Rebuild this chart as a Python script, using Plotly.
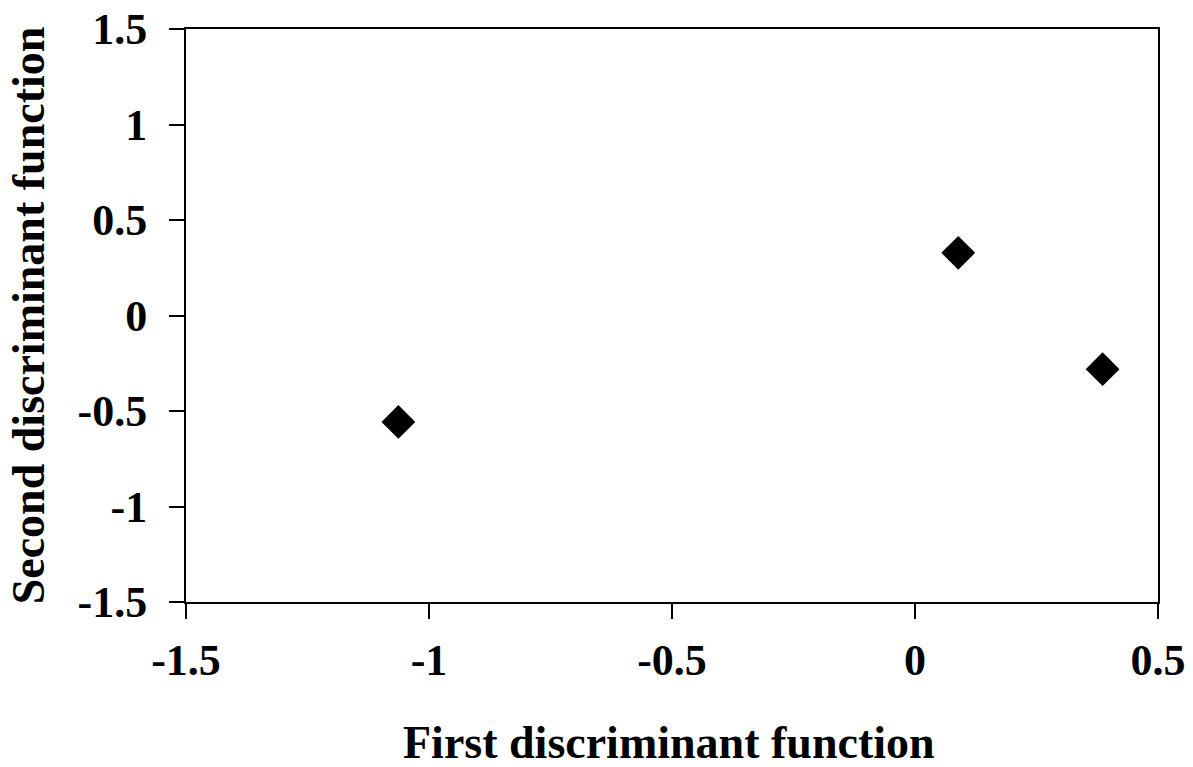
import plotly.graph_objects as go

first_df = [-1.063, 0.089, 0.386]
second_df = [-0.557, 0.328, -0.281]
x_ticks = [-1.5, -1, -0.5, 0, 0.5]
x_ticklabels = ["-1.5", "-1", "-0.5", "0", "0.5"]
y_ticks = [-1.5, -1, -0.5, 0, 0.5, 1, 1.5]
y_ticklabels = ["-1.5", "-1", "-0.5", "0", "0.5", "1", "1.5"]
x_title = "First discriminant function"
y_title = "Second discriminant function"

font_family = "Liberation Serif"

fig = go.Figure()
fig.add_trace(go.Scatter(
    x=first_df, y=second_df, mode="markers",
    marker=dict(symbol="diamond", size=26, color="black", line=dict(width=0)),
    showlegend=False, cliponaxis=False,
))

axis_common = dict(
    showgrid=False, zeroline=False, showline=True, linecolor="black", linewidth=2,
    ticks="outside", ticklen=15, tickwidth=2, tickcolor="black", mirror=True,
    automargin=False,
    tickfont=dict(family=font_family, size=44, color="black", weight="bold"),
)

fig.update_layout(
    width=1193, height=767,
    margin=dict(l=186, r=35, t=29, b=165),
    paper_bgcolor="white", plot_bgcolor="white",
    xaxis=dict(range=[-1.5, 0.5], tickvals=x_ticks, ticktext=x_ticklabels,
               ticklabelstandoff=3, **axis_common),
    yaxis=dict(range=[-1.5, 1.5], tickvals=y_ticks, ticktext=y_ticklabels,
               title=dict(text="<b>" + y_title + "</b>",
                          font=dict(family=font_family, size=46, color="black"), standoff=18),
               ticklabelstandoff=13, **axis_common),
)

fig.add_annotation(
    text="<b>" + x_title + "</b>", xref="paper", yref="paper", x=0.497, y=0,
    xanchor="center", yanchor="middle", yshift=-140, showarrow=False,
    font=dict(family=font_family, size=46, color="black"),
)

fig.write_html("out.html",
               config={"displayModeBar": False},
               post_script="document.body.style.margin='0';document.body.style.overflow='hidden';")
